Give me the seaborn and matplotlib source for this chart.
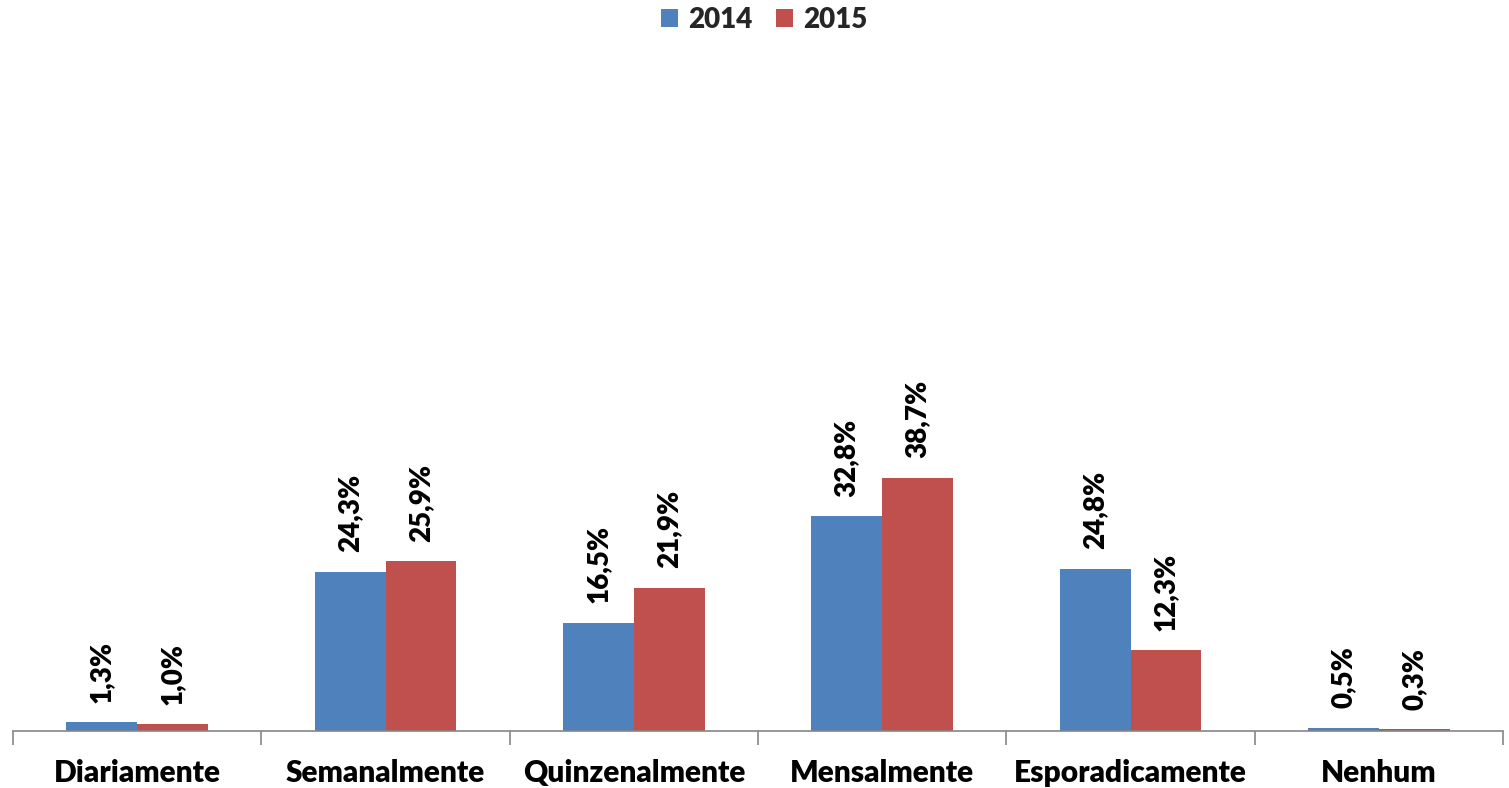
import matplotlib
matplotlib.use("Agg")
import matplotlib.pyplot as plt
import seaborn as sns
import pandas as pd

categories = ["Diariamente", "Semanalmente", "Quinzenalmente", "Mensalmente", "Esporadicamente", "Nenhum"]
years = ["2014", "2015"]
values_2014 = [1.3, 24.3, 16.5, 32.8, 24.8, 0.5]
values_2015 = [1.0, 25.9, 21.9, 38.7, 12.3, 0.3]

df = pd.DataFrame({
    "cat": categories * 2,
    "year": ["2014"] * len(categories) + ["2015"] * len(categories),
    "val": values_2014 + values_2015,
})

sns.set_theme(style="white")
plt.rcParams["font.family"] = ["Lato", "DejaVu Sans"]
W = "heavy"

fig = plt.figure(figsize=(15.09, 7.88), dpi=100)
ax = fig.add_axes([13 / 1509, 57 / 788, 1490 / 1509, (731 - 76) / 788])

palette = {"2014": "#4F81BD", "2015": "#C0504D"}
sns.barplot(data=df, x="cat", y="val", hue="year", hue_order=years, order=categories,
            palette=palette, width=0.57, saturation=1, ax=ax, legend=True, linewidth=0)

for cont in ax.containers:
    labels = [f"{v:.1f}".replace(".", ",") + "%" for v in cont.datavalues]
    ax.bar_label(cont, labels=labels, rotation=90, padding=14, fontsize=20,
                 fontweight=W, color="black")

ax.set_ylim(0, 100)
ax.set_xlim(-0.5, len(categories) - 0.5)
ax.set_xlabel("")
ax.set_ylabel("")
ax.set_yticks([])
for s in ["top", "right", "left"]:
    ax.spines[s].set_visible(False)
ax.spines["bottom"].set_color("#868686")
ax.spines["bottom"].set_linewidth(1.2)

ax.set_xticks([i for i in range(len(categories))])
ax.set_xticklabels(categories, fontsize=21.5, fontweight=W, color="black")
ax.tick_params(axis="x", length=0, pad=20)
ax.set_xticks([i - 0.5 for i in range(len(categories) + 1)], minor=True)
ax.tick_params(axis="x", which="minor", length=10, width=1.2, color="#868686", bottom=True)

leg = ax.legend(loc="center", ncol=2, frameon=False, handlelength=0.62, handleheight=0.62,
                handletextpad=0.35, columnspacing=0.85, prop={"weight": W, "size": 20})
leg.set_bbox_to_anchor((764 / 1509, 1 - 20 / 788), transform=fig.transFigure)

fig.savefig("out.png", dpi=100)
